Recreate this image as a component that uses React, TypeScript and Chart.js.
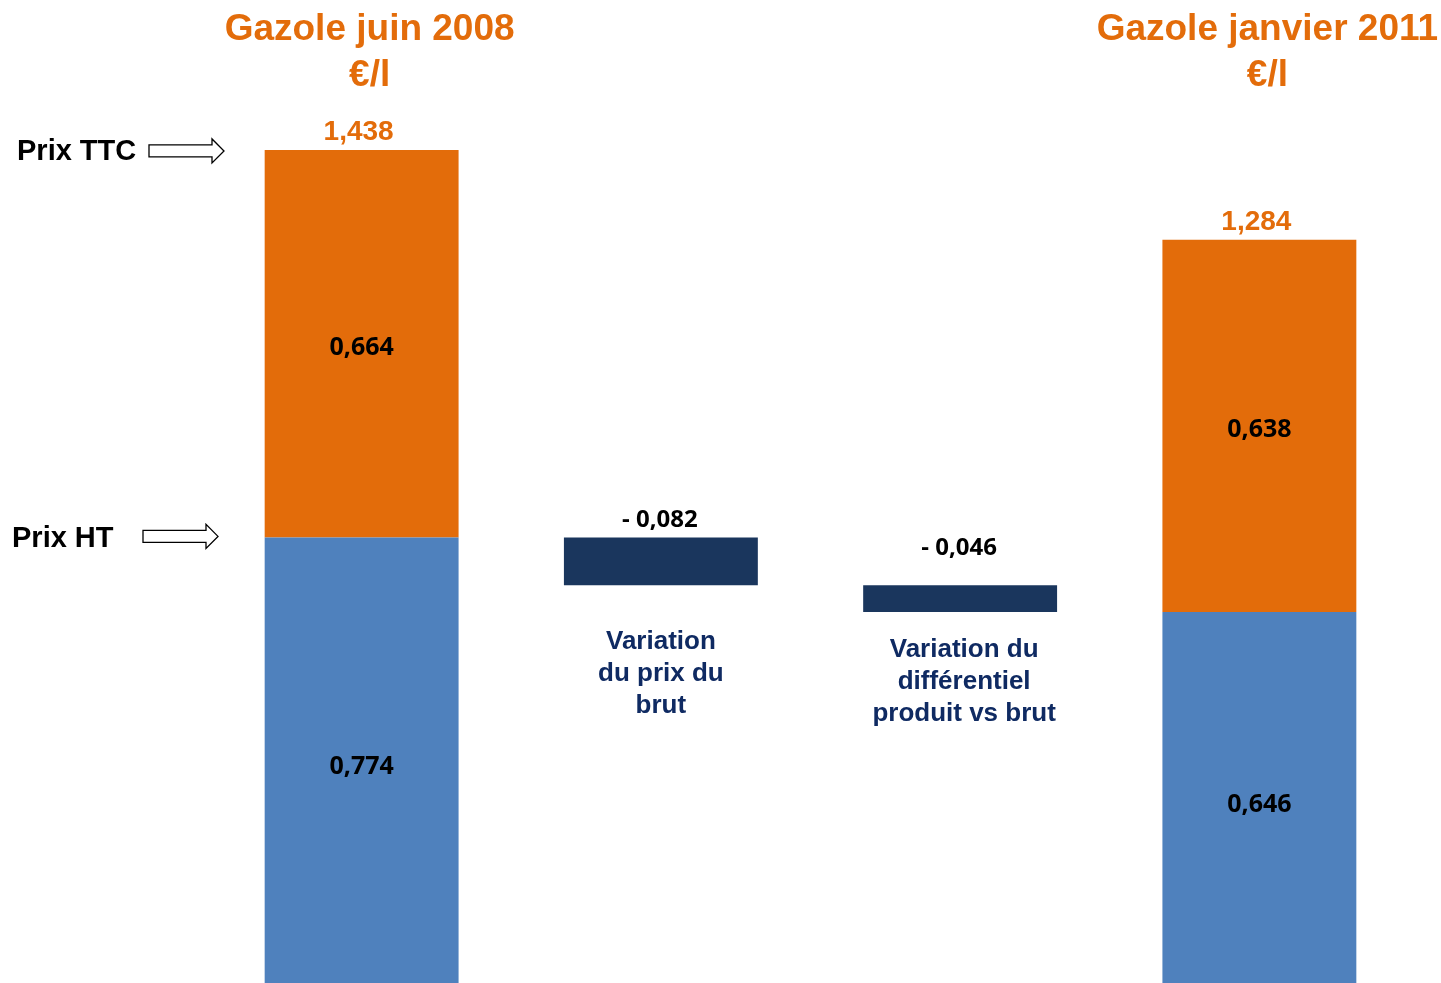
import React, { useEffect, useRef } from 'react';
import { Chart, registerables } from 'chart.js';

Chart.register(...registerables);

const categories = ['Gazole juin 2008', 'Variation du prix du brut', 'Variation du différentiel produit vs brut', 'Gazole janvier 2011'];
const htValues: (number | null)[] = [0.774, null, null, 0.646];
const taxValues: (number | null)[] = [0.664, null, null, 0.638];
const ttcValues: (number | null)[] = [1.438, null, null, 1.284];
const variationValues: (number | null)[] = [null, -0.082, -0.046, null];
const titleLines: string[][] = [['Gazole juin 2008', '€/l'], [], [], ['Gazole janvier 2011', '€/l']];
const categoryLines: string[][] = [[], ['Variation', 'du prix du', 'brut'], ['Variation du', 'différentiel', 'produit vs brut'], []];
const sideLabels = ['Prix TTC', 'Prix HT'];

const ORANGE = '#E36C0A';
const BLUE = '#4F81BD';
const NAVY_BAR = '#1A365D';
const NAVY_TEXT = '#0F2A62';

const fmt = (v: number) => v.toFixed(3).replace('.', ',');

// build floating bars
const blueBars = htValues.map((v) => (v == null ? null : [0, v]));
const orangeBars = htValues.map((v, i) => (v == null || taxValues[i] == null ? null : [v, v + (taxValues[i] as number)]));
const navyBars: (number[] | null)[] = [];
{
  let level = 0;
  categories.forEach((_, i) => {
    const ht = htValues[i];
    const dv = variationValues[i];
    if (ht != null) {
      level = ht;
      navyBars.push(null);
    } else if (dv != null) {
      const next = level + dv;
      navyBars.push([Math.min(level, next), Math.max(level, next)]);
      level = next;
    } else navyBars.push(null);
  });
}

function drawArrow(ctx: CanvasRenderingContext2D, x0: number, y: number) {
  const shaftLen = 63, headLen = 12, shaftH = 12, headH = 24;
  ctx.save();
  ctx.beginPath();
  ctx.moveTo(x0, y - shaftH / 2);
  ctx.lineTo(x0 + shaftLen, y - shaftH / 2);
  ctx.lineTo(x0 + shaftLen, y - headH / 2);
  ctx.lineTo(x0 + shaftLen + headLen, y);
  ctx.lineTo(x0 + shaftLen, y + headH / 2);
  ctx.lineTo(x0 + shaftLen, y + shaftH / 2);
  ctx.lineTo(x0, y + shaftH / 2);
  ctx.closePath();
  ctx.fillStyle = '#ffffff';
  ctx.fill();
  ctx.lineWidth = 1.3;
  ctx.strokeStyle = '#000000';
  ctx.stroke();
  ctx.restore();
}

const labelsPlugin = {
  id: 'labelsPlugin',
  afterDatasetsDraw(chart: any) {
    const ctx: CanvasRenderingContext2D = chart.ctx;
    const xs = chart.scales.x;
    const ys = chart.scales.y;
    ctx.save();
    ctx.textAlign = 'center';
    ctx.textBaseline = 'alphabetic';
    categories.forEach((_, i) => {
      const cx = xs.getPixelForValue(i);
      // titles
      const tl = titleLines[i];
      if (tl.length) {
        ctx.fillStyle = ORANGE;
        ctx.font = 'bold 37px "Liberation Sans", Arial, sans-serif';
        tl.forEach((t, k) => ctx.fillText(t, cx + 8, 40 + k * 46));
      }
      const ht = htValues[i];
      const tax = taxValues[i];
      const ttc = ttcValues[i];
      if (ht != null && tax != null && ttc != null) {
        const y0 = ys.getPixelForValue(0);
        const yHt = ys.getPixelForValue(ht);
        const yTop = ys.getPixelForValue(ht + tax);
        ctx.fillStyle = '#000000';
        ctx.font = 'bold 25px "Open Sans", Lato, sans-serif';
        ctx.fillText(fmt(ht), cx, (y0 + yHt) / 2 + 11);
        ctx.fillText(fmt(tax), cx, (yHt + yTop) / 2 + 11);
        ctx.fillStyle = ORANGE;
        ctx.font = 'bold 28px "Liberation Sans", Arial, sans-serif';
        ctx.fillText(fmt(ttc), cx - 3, ys.getPixelForValue(ttc) - 10);
      }
      const nb = navyBars[i];
      const dv = variationValues[i];
      if (nb && dv != null) {
        const yTop = ys.getPixelForValue(nb[1]);
        const yBot = ys.getPixelForValue(nb[0]);
        ctx.fillStyle = '#000000';
        ctx.font = 'bold 24px "Open Sans", Lato, sans-serif';
        const gap = i === 1 ? 10 : 30;
        ctx.fillText('- ' + fmt(Math.abs(dv)), cx - 1, yTop - gap);
        ctx.fillStyle = NAVY_TEXT;
        ctx.font = 'bold 26px "Liberation Sans", Arial, sans-serif';
        const startOff = i === 1 ? 64 : 45;
        categoryLines[i].forEach((t, k) => ctx.fillText(t, cx + (i === 1 ? 0 : 4), yBot + startOff + k * 32));
      }
    });
    // side labels with arrows
    const yTTC = ys.getPixelForValue(ttcValues[0] as number);
    const yHT = ys.getPixelForValue(htValues[0] as number);
    ctx.textAlign = 'left';
    ctx.fillStyle = '#000000';
    ctx.font = 'bold 29px "Liberation Sans", Arial, sans-serif';
    ctx.fillText(sideLabels[0], 17, yTTC + 10);
    ctx.fillText(sideLabels[1], 12, yHT + 10);
    drawArrow(ctx, 149, yTTC + 1);
    drawArrow(ctx, 143, yHT - 1);
    ctx.restore();
  },
};

export default function App() {
  const ref = useRef<HTMLCanvasElement | null>(null);
  useEffect(() => {
    if (!ref.current) return;
    const chart = new Chart(ref.current, {
      type: 'bar',
      data: {
        labels: categories,
        datasets: [
          { label: 'Prix HT', data: blueBars as any, backgroundColor: BLUE, grouped: false, barPercentage: 0.648, categoryPercentage: 1 },
          { label: 'Taxes', data: orangeBars as any, backgroundColor: ORANGE, grouped: false, barPercentage: 0.648, categoryPercentage: 1 },
          { label: 'Variation', data: navyBars as any, backgroundColor: NAVY_BAR, grouped: false, barPercentage: 0.648, categoryPercentage: 1 },
        ],
      },
      options: {
        responsive: false,
        animation: false,
        layout: { padding: { left: 212, right: 32, top: 113.75, bottom: 0 } },
        plugins: { legend: { display: false }, tooltip: { enabled: false } },
        scales: {
          x: { display: false },
          y: { display: false, min: 0.0103, max: 1.5 },
        },
      },
      plugins: [labelsPlugin],
    });
    return () => chart.destroy();
  }, []);
  return (
    <div style={{ position: 'absolute', left: 0, top: 0, width: 1441, height: 983, background: '#fff' }}>
      <canvas ref={ref} width={1441} height={983} style={{ display: 'block' }} />
    </div>
  );
}
